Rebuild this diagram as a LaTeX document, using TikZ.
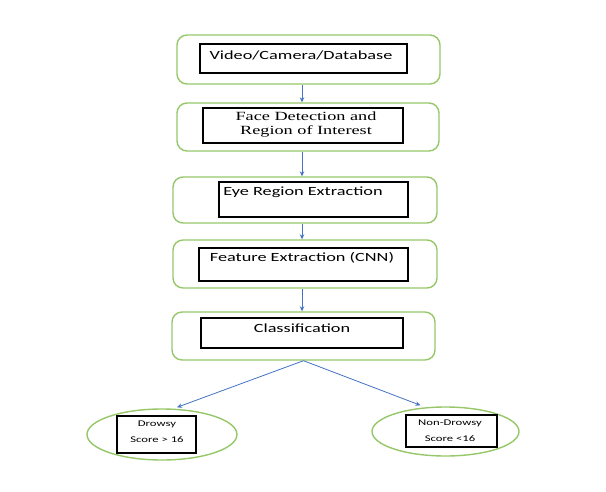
\documentclass[tikz,border=0pt]{standalone}
\usepackage{fontspec}
\usetikzlibrary{shapes.geometric,arrows.meta,calc}
\newfontfamily\sansw[FakeStretch=1.46]{Carlito}
\newfontfamily\serifw[FakeStretch=1.46]{Liberation Serif}
\definecolor{boxgreen}{RGB}{150,200,105}
\definecolor{arrblue}{RGB}{68,114,196}
\tikzset{
  outerbox/.style={draw=boxgreen, line width=1.4pt, rounded corners=10pt, minimum width=#1, minimum height=48pt, inner sep=0pt},
  innerbox/.style={draw=black, line width=1.3pt, inner sep=0pt},
  ovalbox/.style={draw=boxgreen, line width=1.4pt, ellipse, inner sep=0pt},
  lbl/.style={inner sep=0pt, font=\sansw\fontsize{12.5}{14}\selectfont},
  slbl/.style={inner sep=0pt, align=center, font=\serifw\fontsize{12.5}{14}\selectfont},
  small/.style={inner sep=0pt, font=\sansw\fontsize{8.7}{10}\selectfont},
  arr/.style={draw=arrblue, line width=0.8pt, -{Stealth[length=5pt,width=4.5pt]}}
}
\begin{document}
\begin{tikzpicture}[x=1pt,y=-1pt]
\useasboundingbox[fill=white] (0,0) rectangle (606,491);
% outer boxes
\node[outerbox=263pt, minimum height=49pt] (o1) at (308.5,59.5) {};
\node[outerbox=262pt] (o2) at (308,127) {};
\node[outerbox=264pt, minimum height=46pt] (o3) at (305,200) {};
\node[outerbox=264pt] (o4) at (305,264) {};
\node[outerbox=263pt] (o5) at (303.5,336) {};
% inner boxes
\node[innerbox, minimum width=207pt, minimum height=29pt] (i1) at (303.5,58.5) {};
\node[innerbox, minimum width=200pt, minimum height=35pt] (i2) at (303,125.5) {};
\node[innerbox, minimum width=189pt, minimum height=35pt] (i3) at (313.5,199.5) {};
\node[innerbox, minimum width=209pt, minimum height=33pt] (i4) at (303.5,264.5) {};
\node[innerbox, minimum width=202pt, minimum height=30pt] (i5) at (302,333) {};
% labels
\node[lbl] (t1) at (301,55) {Video/Camera/Database};
\node[slbl] (t2) at (306,125) {Face Detection and\\Region of Interest};
\node[lbl] (t3) at (303,192) {Eye Region Extraction};
\node[lbl] (t4) at (302,258) {Feature Extraction (CNN)};
\node[lbl] (t5) at (302,328) {Classification};
% ellipses
\node[ovalbox, minimum width=150pt, minimum height=51pt] (e1) at (162,434.5) {};
\node[ovalbox, minimum width=147pt, minimum height=49pt] (e2) at (445.5,431.5) {};
\node[innerbox, minimum width=79pt, minimum height=37pt] (i6) at (156.5,434.5) {};
\node[innerbox, minimum width=91pt, minimum height=32pt] (i7) at (451.5,431) {};
\node[small] (t6) at (157,424) {Drowsy};
\node[small] (t7) at (157,440) {Score > 16};
\node[small] (t8) at (450,423) {Non-Drowsy};
\node[small] (t9) at (450,439) {Score <16};
% connectors
\coordinate (cx) at (302,0);
\draw[arr] (o1.south -| cx) -- (o2.north -| cx);
\draw[arr] (o2.south -| cx) -- (o3.north -| cx);
\draw[arr] (o3.south -| cx) -- (o4.north -| cx);
\draw[arr] (o4.south -| cx) -- (o5.north -| cx);
\draw[arr] (o5.south) -- ($(e1.north)+(15,-1)$);
\draw[arr] (o5.south) -- ($(e2.north)+(-25,-1)$);
\end{tikzpicture}
\end{document}
